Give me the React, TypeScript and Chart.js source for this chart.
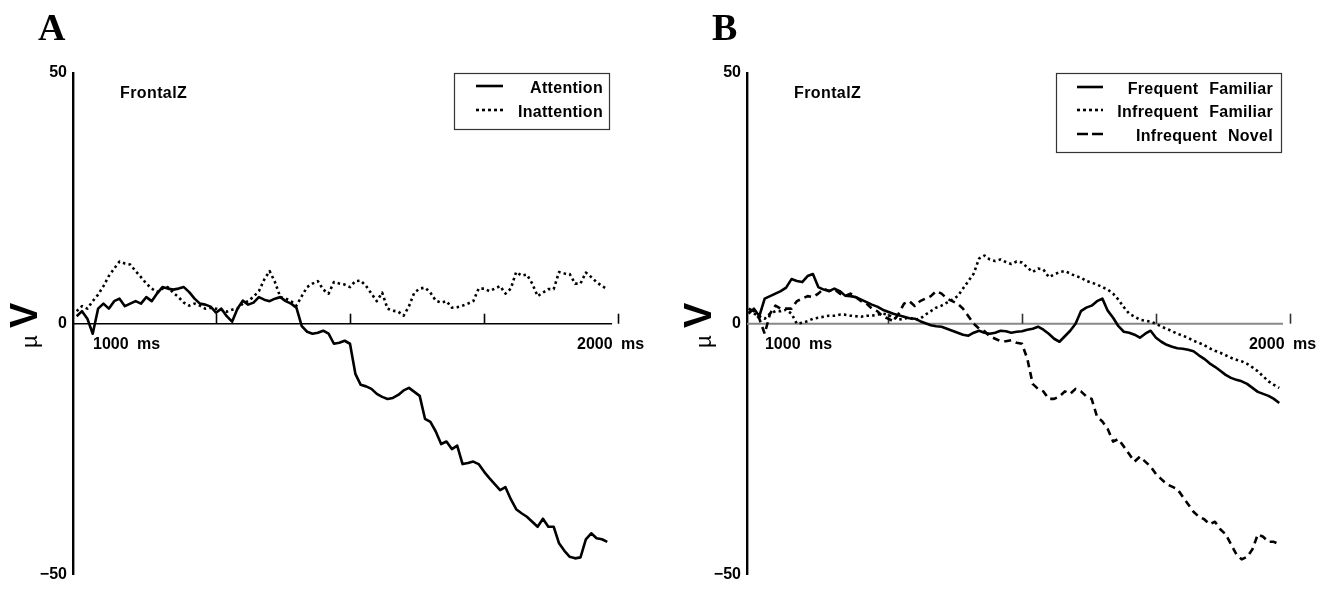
import React, { useEffect, useRef } from "react";
import { Chart, registerables } from "chart.js";

Chart.register(...registerables);

// ---- Data (µV values sampled every 10 ms, 990 ms .. 1980 ms) ----
const TIME_START = 990;
const TIME_STEP = 10;
const timesMs: number[] = Array.from({ length: 100 }, (_, i) => TIME_START + i * TIME_STEP);

const attention = [
  1.5, 2.5, 1, -2, 3, 4, 3, 4.5, 5, 3.5,
  4, 4.5, 4, 5.3, 4.5, 6, 7.3, 7, 6.8, 7,
  7.3, 6.3, 5, 4, 3.8, 3.4, 2.2, 3, 1.5, 0.4,
  3, 4.6, 3.8, 4.2, 5.3, 4.8, 4.5, 5, 5.3, 4.5,
  4, 3.2, -0.5, -1.6, -2, -1.8, -1.4, -2, -4, -3.8,
  -3.4, -4, -10, -12.2, -12.5, -13, -14, -14.6, -15, -14.8,
  -14.2, -13.3, -12.8, -13.6, -14.4, -19, -19.6, -21.5, -24, -23.5,
  -25, -24.3, -28, -27.8, -27.5, -28, -29.5, -30.8, -32, -33.2,
  -32.6, -35, -37, -37.8, -38.5, -39.5, -40.5, -38.9, -40.5, -40.5,
  -43.8, -45.3, -46.5, -46.8, -46.6, -43, -41.8, -42.8, -43, -43.5,
];

const inattention = [
  2.5, 3.5, 3, 4.5, 5.8, 7.5, 9.5, 11, 12.4, 12,
  11.8, 10.5, 9.3, 8, 7, 6.3, 7, 7.3, 6.2, 5.3,
  4.2, 3.6, 4, 3.6, 3, 3.2, 3, 2.8, 2.4, 2.8,
  3, 4, 4.5, 5.4, 6.5, 8.8, 10.5, 8.3, 5.3, 5,
  4.5, 3.6, 5.5, 7.3, 8, 8.5, 6.8, 6, 8.3, 8,
  7.8, 7.3, 8.5, 8.6, 7.5, 6, 4.5, 6.2, 3, 2.6,
  2.4, 1.6, 3.5, 6.2, 7, 7.2, 6.2, 4.6, 4.2, 4.5,
  3.2, 3.3, 3.6, 4, 4.5, 7, 7, 6.5, 7, 7.5,
  6, 7, 10.3, 9.6, 9.8, 8, 5.5, 6.2, 6.9, 6.9,
  10.3, 10, 9.9, 8, 8, 10.2, 9.3, 8.3, 7.5, 6.9,
];

const frequentFamiliar = [
  2, 3, 1.5, 5, 5.5, 6, 6.5, 7.2, 8.9, 8.5,
  8.3, 9.5, 9.9, 7.3, 6.8, 6.5, 7, 6.5, 5.6, 5.5,
  5.3, 4.8, 4.3, 3.8, 3.4, 2.8, 2.4, 2, 1.7, 1.4,
  1.1, 1, 0.5, 0.1, -0.3, -0.5, -0.6, -1, -1.4, -1.8,
  -2.2, -2.4, -1.8, -1.4, -1.8, -2, -1.8, -1.4, -1.5, -1.8,
  -1.6, -1.5, -1.2, -1, -0.6, -1.2, -2, -3, -3.6, -2.5,
  -1.4, 0, 2.5, 3.2, 3.6, 4.5, 5, 2.6, 1.2, -0.5,
  -1.6, -1.8, -2.2, -2.8, -2, -1.4, -2.8, -3.6, -4.2, -4.6,
  -4.9, -5, -5.2, -5.5, -6.3, -7, -7.9, -8.6, -9.4, -10.2,
  -10.8, -11.2, -11.5, -12, -12.8, -13.6, -14, -14.4, -15, -15.8,
];

const infrequentFamiliar = [
  2.5, 2, 1.5, 1, 2, 2.5, 2.5, 2.8, 2, 0,
  0.2, 0.5, 1, 1.2, 1.4, 1.6, 1.6, 1.8, 1.8, 1.6,
  1.5, 1.4, 1.6, 1.6, 1.8, 2, 1.8, 1.2, 0.8, 1,
  1.2, 0.8, 1, 1.8, 2.5, 3.2, 3.6, 4.2, 4.8, 5.5,
  7, 8.5, 10, 13, 13.6, 12.8, 12.5, 12.8, 12.3, 11.9,
  12.4, 12.2, 11.2, 10.3, 11, 10.8, 9.3, 9.8, 10.3, 10.5,
  10, 9.5, 9.2, 8.5, 8.2, 7.8, 7.3, 6.8, 6, 4.8,
  3.3, 2, 1.4, 0.8, 0.6, 0.4, 0, -0.6, -1, -1.5,
  -2, -2.4, -2.8, -3.4, -3.8, -4.3, -4.9, -5.4, -5.8, -6.3,
  -6.8, -7.2, -7.5, -8, -8.7, -9.5, -10.5, -11.5, -12.2, -12.8,
];

const infrequentNovel = [
  3, 2.5, 1, -2, 2, 3.6, 3, 3, 3, 4.5,
  5, 5.5, 5.3, 6, 7, 6.5, 6.9, 6, 5.5, 6,
  5.3, 4.5, 4, 3, 2.5, 1.5, 1, 0.5, 2, 4,
  4.5, 3.5, 4.5, 5, 5.5, 6.5, 6, 5, 4.5, 4,
  3, 1.5, 0, -1, -1.5, -2.5, -3, -3.5, -3.5, -3.3,
  -3.8, -4, -7, -12, -13, -13.5, -15, -15, -14.5, -13.5,
  -14, -13, -13.5, -14.5, -15, -18.5, -19.5, -21, -23.5, -23,
  -24.5, -26, -27.5, -26.5, -27.5, -28.5, -30, -31, -32, -32.5,
  -33, -34.5, -36, -37.5, -38.5, -39, -40, -39.5, -41, -42,
  -44, -46, -47, -46.5, -45, -42, -42.5, -43.5, -43.5, -44,
];

const yTickValues = [-50, 0, 50];
const xTickMarks = [1250, 1500, 1750, 2000];
const xTickLabels = ["1000 ms", "2000 ms"];
const xTickLabelValues = [1000, 2000];
const channelName = "FrontalZ";
const unitLabelMu = "µ";
const unitLabelV = "V";

const panelALabels = ["Attention", "Inattention"];
const panelBLabels = ["Frequent Familiar", "Infrequent Familiar", "Infrequent Novel"];

// ---- Styles ----
const SANS = 'Arial, "Liberation Sans", Helvetica, sans-serif';
const SERIF = '"Liberation Serif", "Times New Roman", Times, serif';
const SOLID: number[] = [];
const DOTTED = [2.5, 3.2];
const DASHED = [7, 5];

type Series = { label: string; values: number[]; dash: number[]; legendDash: number[] };

type PanelCfg = {
  letter: string;
  series: Series[];
  axisX: number;
  xMin: number;
  xMax: number;
  zeroEnd: number;
  zeroColor: string;
  zeroWidth: number;
  tickColor: string;
  legendBox: { x: number; y: number; w: number; h: number };
  legendRowY: number[];
  legendTextRight: number;
  legendSampleX: [number, number];
  unitX: number;
};

const CANVAS_W = 667;
const CANVAS_H = 590;

function makePlugin(cfg: PanelCfg) {
  return {
    id: "panelDecor" + cfg.letter,
    beforeDatasetsDraw(chart: any) {
      const ctx: CanvasRenderingContext2D = chart.ctx;
      const xs = chart.scales.x;
      const ys = chart.scales.y;
      const y0 = ys.getPixelForValue(0);
      ctx.save();
      ctx.strokeStyle = cfg.zeroColor;
      ctx.lineWidth = cfg.zeroWidth;
      ctx.beginPath();
      ctx.moveTo(chart.chartArea.left, y0);
      ctx.lineTo(xs.getPixelForValue(cfg.zeroEnd), y0);
      ctx.stroke();
      ctx.strokeStyle = cfg.tickColor;
      ctx.lineWidth = 1.6;
      xTickMarks.forEach((v) => {
        const px = Math.round(xs.getPixelForValue(v)) + 0.5;
        ctx.beginPath();
        ctx.moveTo(px, y0);
        ctx.lineTo(px, y0 - 10);
        ctx.stroke();
      });
      ctx.restore();
    },
    afterDraw(chart: any) {
      const ctx: CanvasRenderingContext2D = chart.ctx;
      const xs = chart.scales.x;
      const ys = chart.scales.y;
      const y0 = ys.getPixelForValue(0);
      ctx.save();
      ctx.fillStyle = "#000";
      ctx.font = `bold 38px ${SERIF}`;
      ctx.textAlign = "left";
      ctx.textBaseline = "alphabetic";
      ctx.fillText(cfg.letter, cfg.axisX - 35, 40);

      (ctx as any).letterSpacing = "0.4px";
      ctx.font = `bold 16px ${SANS}`;
      ctx.textBaseline = "middle";
      ctx.fillText(channelName, cfg.axisX + 47, 94);
      (ctx as any).letterSpacing = "0px";

      (ctx as any).wordSpacing = "4px";
      ctx.font = `bold 16px ${SANS}`;
      ctx.textBaseline = "middle";
      ctx.textAlign = "left";
      ctx.fillText(xTickLabels[0], xs.getPixelForValue(xTickLabelValues[0]) + 11, y0 + 21);
      ctx.fillText(xTickLabels[1], xs.getPixelForValue(xTickLabelValues[1]) - 41, y0 + 21);

      ctx.save();
      ctx.translate(cfg.unitX, 348);
      ctx.rotate(-Math.PI / 2);
      ctx.textBaseline = "alphabetic";
      ctx.textAlign = "left";
      ctx.font = `22px ${SANS}`;
      ctx.fillText(unitLabelMu, 0, 0);
      ctx.font = `bold 38px ${SANS}`;
      ctx.fillText(unitLabelV, 20, 0);
      ctx.restore();

      const b = cfg.legendBox;
      ctx.strokeStyle = "#333";
      ctx.lineWidth = 1.2;
      ctx.strokeRect(b.x + 0.5, b.y + 0.5, b.w, b.h);
      ctx.font = `bold 16px ${SANS}`;
      (ctx as any).wordSpacing = "6px";
      (ctx as any).letterSpacing = "0.3px";
      ctx.textAlign = "right";
      ctx.textBaseline = "middle";
      cfg.series.forEach((s, i) => {
        const ry = b.y + cfg.legendRowY[i];
        ctx.fillStyle = "#000";
        ctx.fillText(s.label, b.x + b.w - cfg.legendTextRight, ry);
        ctx.strokeStyle = "#000";
        ctx.lineWidth = 2.6;
        ctx.setLineDash(s.legendDash);
        ctx.beginPath();
        ctx.moveTo(b.x + cfg.legendSampleX[0], ry - 3);
        ctx.lineTo(b.x + cfg.legendSampleX[1], ry - 3);
        ctx.stroke();
        ctx.setLineDash([]);
      });
      (ctx as any).wordSpacing = "0px";
      (ctx as any).letterSpacing = "0px";
      ctx.restore();
    },
  };
}

function Panel({ cfg }: { cfg: PanelCfg }) {
  const ref = useRef<HTMLCanvasElement | null>(null);
  useEffect(() => {
    if (!ref.current) return;
    const pxPerMs = 0.536;
    const plotWidth = (cfg.xMax - cfg.xMin) * pxPerMs;
    const padRight = CANVAS_W - cfg.axisX - plotWidth;
    const chart = new Chart(ref.current, {
      type: "line",
      data: {
        datasets: cfg.series.map((s) => ({
          label: s.label,
          data: timesMs.map((t, i) => ({ x: t, y: s.values[i] })),
          borderColor: "#000",
          backgroundColor: "#000",
          borderWidth: 2.6,
          borderDash: s.dash,
          borderJoinStyle: "round" as const,
          pointRadius: 0,
          tension: 0,
          fill: false,
        })),
      },
      options: {
        animation: false,
        responsive: false,
        maintainAspectRatio: false,
        layout: { padding: { top: 73, bottom: 12, left: 0, right: padRight } },
        plugins: { legend: { display: false }, tooltip: { enabled: false } },
        scales: {
          x: { type: "linear", min: cfg.xMin, max: cfg.xMax, display: false },
          y: {
            type: "linear",
            min: -50,
            max: 50,
            position: "left",
            afterFit: (scale: any) => {
              scale.width = cfg.axisX;
            },
            afterBuildTicks: (scale: any) => {
              scale.ticks = yTickValues.map((v) => ({ value: v }));
            },
            grid: { display: false, drawTicks: false },
            border: { display: true, color: "#000", width: 2.4 },
            ticks: {
              color: "#000",
              padding: 6,
              font: { family: SANS, size: 16, weight: "bold" },
              callback: (v: any) => (Number(v) < 0 ? "\u2212" + Math.abs(Number(v)) : String(v)),
            },
          },
        },
      } as any,
      plugins: [makePlugin(cfg)],
    });
    return () => chart.destroy();
  }, [cfg]);
  return <canvas ref={ref} width={CANVAS_W} height={CANVAS_H} style={{ display: "block" }} />;
}

const panelA: PanelCfg = {
  letter: "A",
  series: [
    { label: panelALabels[0], values: attention, dash: SOLID, legendDash: [] },
    { label: panelALabels[1], values: inattention, dash: DOTTED, legendDash: [3, 3] },
  ],
  axisX: 73,
  xMin: 983.2,
  xMax: 2010,
  zeroEnd: 1989,
  zeroColor: "#000",
  zeroWidth: 1.4,
  tickColor: "#000",
  legendBox: { x: 454, y: 73, w: 155, h: 56 },
  legendRowY: [16, 40],
  legendTextRight: 6,
  legendSampleX: [22, 49],
  unitX: 37,
};

const panelB: PanelCfg = {
  letter: "B",
  series: [
    { label: panelBLabels[0], values: frequentFamiliar, dash: SOLID, legendDash: [] },
    { label: panelBLabels[1], values: infrequentFamiliar, dash: DOTTED, legendDash: [3, 3] },
    { label: panelBLabels[2], values: infrequentNovel, dash: DASHED, legendDash: [11, 4] },
  ],
  axisX: 80,
  xMin: 987,
  xMax: 2010,
  zeroEnd: 1987,
  zeroColor: "#888",
  zeroWidth: 2,
  tickColor: "#333",
  legendBox: { x: 389, y: 73, w: 225, h: 79 },
  legendRowY: [17, 40, 64],
  legendTextRight: 8,
  legendSampleX: [21, 47],
  unitX: 44,
};

export default function App() {
  return (
    <div
      style={{
        position: "absolute",
        left: 0,
        top: 0,
        width: 1334,
        height: 590,
        background: "#fff",
        display: "flex",
        overflow: "hidden",
      }}
    >
      <Panel cfg={panelA} />
      <Panel cfg={panelB} />
    </div>
  );
}
